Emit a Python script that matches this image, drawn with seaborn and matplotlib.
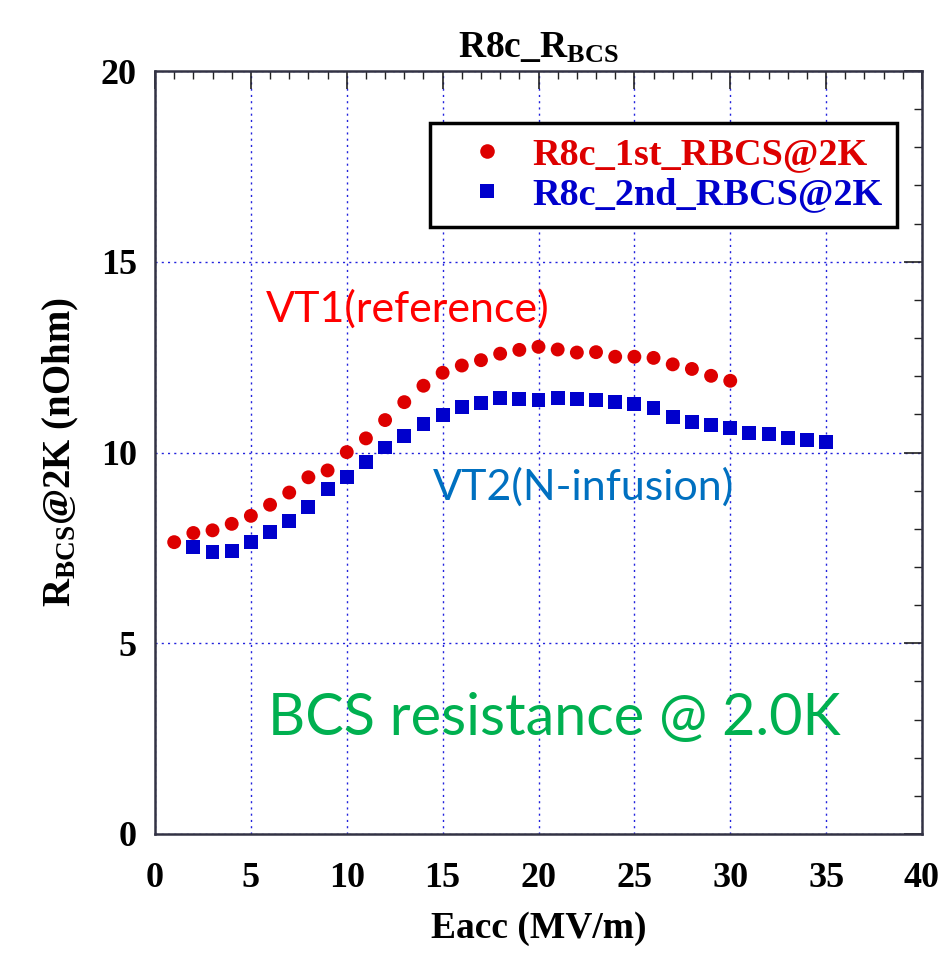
import numpy as np
import pandas as pd
import matplotlib
matplotlib.use("Agg")
import matplotlib.pyplot as plt
import seaborn as sns
from matplotlib.ticker import MultipleLocator

# Measured BCS resistance at 2 K versus accelerating gradient
eacc_1st = [1, 2, 3, 4, 5, 6, 7, 8, 9, 10, 11, 12, 13, 14, 15, 16, 17, 18, 19, 20,
            21, 22, 23, 24, 25, 26, 27, 28, 29, 30]
rbcs_1st = [7.65, 7.89, 7.96, 8.13, 8.34, 8.63, 8.95, 9.35, 9.53, 10.01, 10.37, 10.85,
            11.32, 11.75, 12.09, 12.28, 12.42, 12.59, 12.69, 12.77, 12.70, 12.62, 12.63,
            12.51, 12.51, 12.48, 12.31, 12.19, 12.01, 11.88]

eacc_2nd = [2, 3, 4, 5, 6, 7, 8, 9, 10, 11, 12, 13, 14, 15, 16, 17, 18, 19, 20, 21,
            22, 23, 24, 25, 26, 27, 28, 29, 30, 31, 32, 33, 34, 35]
rbcs_2nd = [7.52, 7.39, 7.41, 7.65, 7.91, 8.21, 8.56, 9.04, 9.35, 9.76, 10.13, 10.44,
            10.75, 10.99, 11.20, 11.29, 11.44, 11.41, 11.37, 11.42, 11.40, 11.37, 11.33,
            11.26, 11.16, 10.94, 10.79, 10.73, 10.65, 10.52, 10.48, 10.37, 10.33, 10.27]

series_labels = ["R8c_1st_RBCS@2K", "R8c_2nd_RBCS@2K"]
x_ticks = [0, 5, 10, 15, 20, 25, 30, 35, 40]
y_ticks = [0, 5, 10, 15, 20]

RED = "#DD0000"
BLUE = "#0000CC"

sns.set_theme(style="white")
plt.rcParams["font.family"] = ["Liberation Serif", "DejaVu Serif"]
plt.rcParams["font.weight"] = "bold"
plt.rcParams["text.color"] = "black"
plt.rcParams["axes.labelcolor"] = "black"
plt.rcParams["xtick.color"] = "black"
plt.rcParams["ytick.color"] = "black"
plt.rcParams["mathtext.fontset"] = "custom"
plt.rcParams["mathtext.rm"] = "Liberation Serif:bold"
plt.rcParams["mathtext.bf"] = "Liberation Serif:bold"
plt.rcParams["mathtext.it"] = "Liberation Serif:bold"

df = pd.concat([
    pd.DataFrame({"Eacc": eacc_1st, "Rbcs": rbcs_1st, "run": series_labels[0]}),
    pd.DataFrame({"Eacc": eacc_2nd, "Rbcs": rbcs_2nd, "run": series_labels[1]}),
])

fig = plt.figure(figsize=(9.41, 9.56), dpi=100)
ax = fig.add_axes([155 / 941, 1 - 834 / 956, (922 - 155) / 941, (834 - 71) / 956])

sns.scatterplot(data=df, x="Eacc", y="Rbcs", hue="run", style="run",
                palette={series_labels[0]: RED, series_labels[1]: BLUE},
                markers={series_labels[0]: "o", series_labels[1]: "s"},
                s=110, linewidth=0, ax=ax, zorder=3)
# squares drawn a little larger than circles
for coll, size in zip(ax.collections, [100, 125]):
    coll.set_sizes([size])

ax.set_xlim(0, 40)
ax.set_ylim(0, 20)
ax.set_xticks(x_ticks)
ax.set_yticks(y_ticks)
ax.xaxis.set_minor_locator(MultipleLocator(1))
ax.yaxis.set_minor_locator(MultipleLocator(1))
ax.tick_params(which="major", direction="in", length=13, width=1.2, color="#222222",
               top=True, right=True, labelsize=26, labelcolor="black")
ax.tick_params(which="minor", direction="in", length=6, width=1.0, color="#222222",
               top=True, right=True)
ax.tick_params(axis="x", which="major", pad=20)
ax.tick_params(axis="y", which="major", pad=13)
for lab in ax.get_xticklabels() + ax.get_yticklabels():
    lab.set_fontweight("bold")

ax.grid(True, which="major", color="#2222DD", linestyle=(0, (1.5, 3)), linewidth=1.0)
for sp in ax.spines.values():
    sp.set_color("#333344")
    sp.set_linewidth(1.8)
    sp.set_visible(True)

ax.set_xlabel("Eacc (MV/m)", fontsize=27, fontweight="bold", labelpad=12, color="black")
ax.set_ylabel(r"$\mathbf{R_{BCS}}$@2K (nOhm)", fontsize=28, fontweight="bold",
              labelpad=14, color="black")
ax.set_title(r"R8c_$\mathbf{R_{BCS}}$", fontsize=27, fontweight="bold", pad=10,
             color="black")

# annotations
ax.text(5.76, 13.76, "VT1(reference)", color="#FF0000", fontsize=31,
        family=["Lato", "DejaVu Sans"], fontweight="normal", ha="left", va="center")
ax.text(14.5, 9.1, "VT2(N-infusion)", color="#0070C0", fontsize=31,
        family=["Lato", "DejaVu Sans"], fontweight="normal", ha="left", va="center")
ax.text(5.9, 3.03, "BCS resistance @ 2.0K", color="#00B050", fontsize=41.5,
        family=["Lato", "DejaVu Sans"], fontweight="normal", ha="left", va="center")

leg = ax.legend(loc="upper left", bbox_to_anchor=((430 - 155) / 767, 1 - (123 - 71) / 763),
                frameon=True, fancybox=False, shadow=False, fontsize=27.5,
                handlelength=2.2, handletextpad=0.1, borderpad=0.38, labelspacing=0.12,
                borderaxespad=0)
frame = leg.get_frame()
frame.set_edgecolor("black")
frame.set_linewidth(2.5)
frame.set_facecolor("white")
frame.set_alpha(1)
for txt, c in zip(leg.get_texts(), [RED, BLUE]):
    txt.set_color(c)
    txt.set_fontweight("bold")

fig.savefig("out.png", dpi=100)
